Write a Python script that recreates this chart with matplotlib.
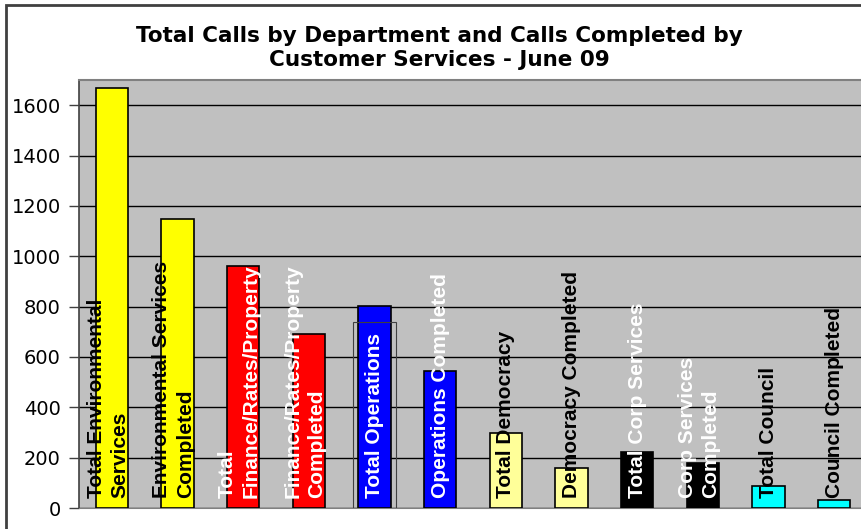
import matplotlib.pyplot as plt
from matplotlib.patches import Rectangle

# data
labels = ['Total Environmental\nServices', 'Environmental Services\nCompleted',
          'Total\nFinance/Rates/Property', 'Finance/Rates/Property\nCompleted',
          'Total Operations', 'Operations Completed',
          'Total Democracy', 'Democracy Completed',
          'Total Corp Services', 'Corp Services\nCompleted',
          'Total Council', 'Council Completed']
values = [1668, 1148, 962, 692, 803, 545, 297, 158, 222, 178, 88, 32]
bar_colors = ['#FFFF00', '#FFFF00', '#FF0000', '#FF0000', '#0000FF', '#0000FF',
              '#FFFF99', '#FFFF99', '#000000', '#000000', '#00FFFF', '#00FFFF']
text_colors = ['black', 'black', 'white', 'white', 'white', 'white',
               'black', 'black', 'white', 'white', 'black', 'black']
yticks = [0, 200, 400, 600, 800, 1000, 1200, 1400, 1600]

fig = plt.figure(figsize=(8.61, 5.29), dpi=100)
ax = fig.add_axes([79 / 861, 21 / 529, 788 / 861, 428 / 529])
ax.set_facecolor('#C0C0C0')

x = list(range(len(values)))
ax.bar(x, values, width=0.49, color=bar_colors, edgecolor='black', linewidth=1.2, zorder=3)

# odd outline box around "Total Operations" in the original
ax.add_patch(Rectangle((4 - 0.32, 0), 0.64, 740, fill=False, edgecolor='#404040',
                       linewidth=0.8, zorder=4))

for i, lab in enumerate(labels):
    ax.text(i - 0.06 if '\n' in lab else i, 38, lab, rotation=90, ha='center', va='bottom',
            multialignment='left', color=text_colors[i], fontsize=15,
            fontweight='bold', family='Liberation Sans', linespacing=1.3, zorder=5)

ax.set_xlim(-0.5, 11.5)
ax.set_ylim(0, 1700)
ax.set_yticks(yticks)
ax.set_yticklabels([str(t) for t in yticks], fontsize=14, family='DejaVu Sans')
ax.set_xticks([])
ax.yaxis.grid(True, color='black', linewidth=1, zorder=0)
ax.set_axisbelow(True)
ax.tick_params(axis='y', length=7, width=1, color='#404040', pad=6)
ax.spines['left'].set_color('#404040')
ax.spines['left'].set_linewidth(1.2)
ax.spines['top'].set_color('#808080')
ax.spines['top'].set_linewidth(1.5)
ax.spines['bottom'].set_color('#808080')
ax.spines['right'].set_visible(False)

fig.text(0.51, 1 - 48 / 529, 'Total Calls by Department and Calls Completed by\nCustomer Services - June 09',
         ha='center', va='center', fontsize=15.5, fontweight='bold', family='DejaVu Sans',
         linespacing=1.3)

# chart border
fig.add_artist(Rectangle((6 / 861, -0.1), 1.1, 1.1 - 5 / 529, transform=fig.transFigure,
                         fill=False, edgecolor='#404040', linewidth=2))

fig.savefig('out.png', dpi=100)
